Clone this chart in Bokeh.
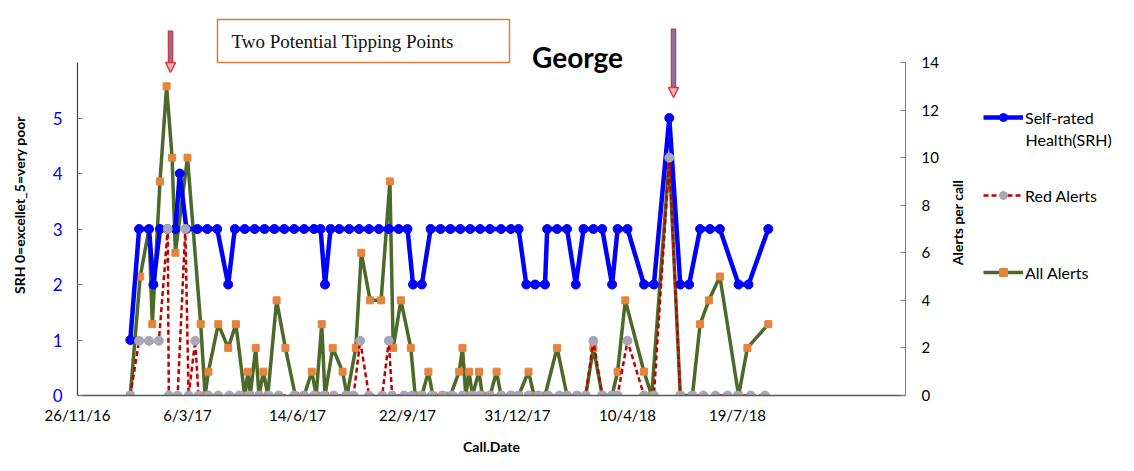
import math
import pandas as pd
from bokeh.plotting import figure
from bokeh.layouts import row
from bokeh.models import (Range1d, LinearAxis, FixedTicker, Legend, LegendItem,
                          Label, Arrow, NormalHead, BoxAnnotation)
from bokeh.embed import file_html
from bokeh.resources import INLINE

# ---------------- data ----------------
start_date = "2016-11-26"          # day 0 of the call-day arrays below
tick_dates = ["2016-11-26", "2017-03-06", "2017-06-14", "2017-09-22",
              "2017-12-31", "2018-04-10", "2018-07-19"]
tick_labels = ["26/11/16", "6/3/17", "14/6/17", "22/9/17",
               "31/12/17", "10/4/18", "19/7/18"]

# Self-rated health (days since start_date, value)
srh_day = [48, 56, 65, 69, 75, 82, 89, 93, 99, 109,
           118, 127, 137, 143, 152, 161, 170, 179, 188, 197,
           206, 215, 221, 225, 230, 238, 247, 256, 265, 274,
           283, 292, 300, 305, 313, 321, 330, 339, 348, 357,
           366, 375, 385, 394, 401, 408, 416, 425, 427, 436,
           445, 453, 460, 469, 477, 486, 491, 500, 515, 524,
           538, 548, 556, 566, 575, 584, 601, 610, 628]
srh = [1, 3, 3, 2, 3, 3, 3, 4, 3, 3,
       3, 3, 2, 3, 3, 3, 3, 3, 3, 3,
       3, 3, 3, 2, 3, 3, 3, 3, 3, 3,
       3, 3, 3, 2, 2, 3, 3, 3, 3, 3,
       3, 3, 3, 3, 3, 2, 2, 2, 3, 3,
       3, 2, 3, 3, 3, 2, 3, 3, 2, 2,
       5, 2, 2, 3, 3, 3, 2, 2, 3]

# Red alerts
red_day = [48, 56, 65, 74, 82, 83, 91, 98, 101, 107,
           110, 119, 128, 138, 147, 156, 165, 174, 183, 197,
           206, 215, 224, 233, 244, 251, 257, 265, 277, 283,
           286, 297, 304, 313, 322, 332, 341, 350, 359, 366,
           375, 385, 394, 401, 410, 419, 428, 438, 445, 454,
           462, 469, 477, 486, 491, 500, 515, 524, 538, 548,
           559, 569, 580, 591, 600, 612, 625]
red_alerts = [0, 2.3, 2.3, 2.3, 7, 0, 0, 7, 0, 2.3,
              0, 0, 0, 0, 0, 0, 0, 0, 0, 0,
              0, 0, 0, 0, 0, 0, 2.3, 0, 0, 2.3,
              0, 0, 0, 0, 0, 0, 0, 0, 0, 0,
              0, 0, 0, 0, 0, 0, 0, 0, 0, 0,
              0, 2.3, 0, 0, 0, 2.3, 0, 0, 10, 0,
              0, 0, 0, 0, 0, 0, 0]

# All alerts
all_day = [48, 57, 65, 68, 75, 81, 86, 89, 100, 112,
           116, 119, 128, 137, 144, 152, 155, 157, 162, 165,
           169, 173, 181, 189, 198, 206, 213, 217, 222, 225,
           232, 241, 245, 253, 258, 266, 276, 284, 287, 294,
           303, 307, 313, 319, 323, 332, 339, 347, 350, 353,
           356, 359, 365, 368, 375, 381, 385, 394, 401, 410,
           415, 425, 436, 445, 454, 462, 469, 477, 486, 491,
           498, 515, 522, 538, 548, 559, 566, 574, 584, 601,
           609, 628]
all_alerts = [0, 5, 7, 3, 9, 13, 10, 6, 10, 3,
              0, 1, 3, 2, 3, 0, 1, 0, 2, 0,
              1, 0, 4, 2, 0, 0, 1, 0, 3, 0,
              2, 1, 0, 2, 6, 4, 4, 9, 2, 4,
              2, 0, 0, 1, 0, 0, 0, 1, 2, 0,
              1, 0, 1, 0, 0, 1, 0, 0, 0, 1,
              0, 0, 2, 0, 0, 0, 2, 0, 0, 1,
              4, 1, 0, 10, 0, 0, 3, 4, 5, 0,
              2, 3]

srh_ticks = [0, 1, 2, 3, 4, 5]
alert_ticks = [0, 2, 4, 6, 8, 10, 12, 14]

# ---------------- layout constants ----------------
start = pd.Timestamp(start_date)
tick_pos = [int((pd.Timestamp(d) - start).days) for d in tick_dates]

PX_DAY = 1.1            # px per day
SRH_PX = 333 / 6        # px per SRH unit
AL_PX = 333 / 14        # px per alert unit
FRAME_W, FRAME_H = 828, 381
FX0, FY0 = 77, 395      # page-pixel position of frame bottom-left
FIG_H = 468
MAIN_W = 945
LEG_W = 186
TOP = FY0 - FRAME_H
BOTTOM = FIG_H - FY0


def ax(px):
    return (px - FX0) / PX_DAY


def ay(py):
    return (FY0 - py) / SRH_PX


FONT = "Lato"
BLUE = "#0000FF"
GREEN = "#4B6A2A"
ORANGE = "#E5843F"
RED = "#C00000"
GRAY = "#A7A7B7"
AXIS = "#7F7F7F"
BLACK = "#000000"

p = figure(width=MAIN_W, height=FIG_H, output_backend="svg", toolbar_location=None,
           x_range=Range1d(0, FRAME_W / PX_DAY), y_range=Range1d(0, FRAME_H / SRH_PX),
           min_border_left=FX0, min_border_right=MAIN_W - FX0 - FRAME_W,
           min_border_top=TOP, min_border_bottom=BOTTOM)
p.extra_y_ranges = {"alerts": Range1d(0, FRAME_H / AL_PX)}
p.xgrid.visible = False
p.ygrid.visible = False
p.outline_line_color = None
p.background_fill_color = "white"
p.border_fill_color = "white"

# ---------------- series ----------------
line_all = dict(line_color=GREEN, line_width=3.5)
pts_all = dict(marker="square", size=7, fill_color=ORANGE, line_color=ORANGE)
line_srh = dict(line_color=BLUE, line_width=4.5)
pts_srh = dict(size=9, fill_color=BLUE, line_color=BLUE)
line_red = dict(line_color=RED, line_width=2.5, line_dash="5 3")
pts_red = dict(size=9, fill_color=GRAY, line_color=GRAY)

p.line(all_day, all_alerts, y_range_name="alerts", **line_all)
p.scatter(all_day, all_alerts, y_range_name="alerts", **pts_all)
p.line(srh_day, srh, **line_srh)
p.scatter(srh_day, srh, **pts_srh)
p.line(red_day, red_alerts, y_range_name="alerts", **line_red)
p.scatter(red_day, red_alerts, y_range_name="alerts", **pts_red)

# ---------------- axes ----------------
xa = p.xaxis[0]
xa.ticker = FixedTicker(ticks=tick_pos)
xa.major_label_overrides = {t: l for t, l in zip(tick_pos, tick_labels)}
xa.axis_label = "Call.Date"
xa.axis_label_text_font = FONT
xa.axis_label_text_font_style = "bold"
xa.axis_label_text_font_size = "14px"
xa.axis_label_text_color = BLACK
xa.axis_label_standoff = 11
xa.major_label_text_font = FONT
xa.major_label_text_font_size = "15px"
xa.major_label_text_color = BLACK
xa.major_label_standoff = 4
xa.major_tick_line_color = None
xa.minor_tick_line_color = None
xa.axis_line_color = "#595959"
xa.axis_line_width = 1.5

ya = p.yaxis[0]
ya.ticker = FixedTicker(ticks=srh_ticks)
ya.bounds = (0, 6)
ya.axis_label = "SRH 0=excellet_5=very poor"
ya.axis_label_text_font = FONT
ya.axis_label_text_font_style = "bold"
ya.axis_label_text_font_size = "14px"
ya.axis_label_text_color = BLACK
ya.axis_label_standoff = 22
ya.major_label_text_font = FONT
ya.major_label_text_font_size = "17px"
ya.major_label_text_color = BLUE
ya.major_label_standoff = 15
ya.major_tick_in = 5
ya.major_tick_out = 0
ya.major_tick_line_color = AXIS
ya.minor_tick_line_color = None
ya.axis_line_color = "#404040"
ya.axis_line_width = 1.2

ra = LinearAxis(y_range_name="alerts", ticker=FixedTicker(ticks=alert_ticks), bounds=(0, 14))
ra.major_label_text_font = FONT
ra.major_label_text_font_size = "15px"
ra.major_label_text_color = BLACK
ra.major_label_standoff = 16
ra.major_tick_in = 5
ra.major_tick_out = 0
ra.major_tick_line_color = AXIS
ra.minor_tick_line_color = None
ra.axis_line_color = AXIS
p.add_layout(ra, "right")

# ---------------- annotations ----------------
p.add_layout(Label(x=ax(577), y=ay(56), text="George", text_font=FONT,
                   text_font_size="28px", text_font_style="bold", text_color=BLACK,
                   text_align="center", text_baseline="alphabetic"))

p.add_layout(BoxAnnotation(left=ax(217), right=ax(509), top=ay(19), bottom=ay(62),
                           fill_color="white", fill_alpha=1.0,
                           line_color="#E07B39", line_alpha=1.0, line_width=1.5))
p.add_layout(Label(x=ax(231), y=ay(41), text="Two Potential Tipping Points",
                   text_font="Liberation Serif", text_font_size="19px",
                   text_align="left", text_baseline="middle", text_color="#111111"))

for xp, y0, y1 in [(170, 30, 72), (673, 28, 97)]:
    p.add_layout(Arrow(x_start=ax(xp), y_start=ay(y0), x_end=ax(xp), y_end=ay(y1 - 7),
                       line_color="#E0343A", line_width=5.5, end=None))
    p.add_layout(Arrow(x_start=ax(xp), y_start=ay(y0 + 1.5), x_end=ax(xp), y_end=ay(y1 - 8),
                       line_color="#6C80BE", line_width=2.5, end=None))
    p.add_layout(Arrow(x_start=ax(xp), y_start=ay(y1 - 9), x_end=ax(xp), y_end=ay(y1),
                       line_alpha=0, line_width=1,
                       end=NormalHead(size=10, fill_color="#F3B5B5",
                                      line_color="#E0343A", line_width=1.5)))

# ---------------- legend panel (separate figure to the right) ----------------
# its frame is aligned with the main frame (page y 14..395)
lp = figure(width=LEG_W, height=FIG_H, output_backend="svg", toolbar_location=None,
            x_range=Range1d(0, LEG_W), y_range=Range1d(0, FRAME_H),
            x_axis_type=None, y_axis_type=None,
            min_border_left=0, min_border_right=0,
            min_border_top=TOP, min_border_bottom=BOTTOM)
lp.outline_line_color = None
lp.background_fill_color = "white"
lp.border_fill_color = "white"


def lx(px):
    return px - MAIN_W


def ly(py):
    return FY0 - py


lp.add_layout(Label(x=lx(957), y=ly(222), text="Alerts per call", angle=math.pi / 2,
                    text_font=FONT, text_font_size="14px", text_font_style="bold",
                    text_color=BLACK, text_align="center", text_baseline="middle"))

# sample renderers for the legend keys (their points lie outside the visible area)
kx, ky = [-60, -50], [-60, -60]
k_srh = [lp.line(kx, ky, **line_srh), lp.scatter(kx[:1], ky[:1], **pts_srh)]
k_red = [lp.line(kx, ky, **line_red), lp.scatter(kx[:1], ky[:1], **pts_red)]
k_all = [lp.line(kx, ky, **line_all), lp.scatter(kx[:1], ky[:1], **pts_all)]

common = dict(border_line_color=None, background_fill_alpha=0, padding=0, margin=0,
              glyph_width=40, glyph_height=20, label_standoff=2,
              label_text_font=FONT, label_text_font_size="16px", label_height=18,
              label_text_color=BLACK)
for lab, rends, center in [("Self-rated", k_srh, 117),
                           ("Red Alerts", k_red, 195),
                           ("All Alerts", k_all, 272)]:
    lg = Legend(items=[LegendItem(label=lab, renderers=rends)],
                location=(lx(983), ly(center + 10)), **common)
    lp.add_layout(lg)

lp.add_layout(Label(x=lx(1025), y=ly(139), text="Health(SRH)", text_font=FONT,
                    text_font_size="16px", text_color=BLACK,
                    text_align="left", text_baseline="middle"))

layout = row(p, lp, spacing=0)
open("out.html", "w").write(file_html(layout, INLINE))
